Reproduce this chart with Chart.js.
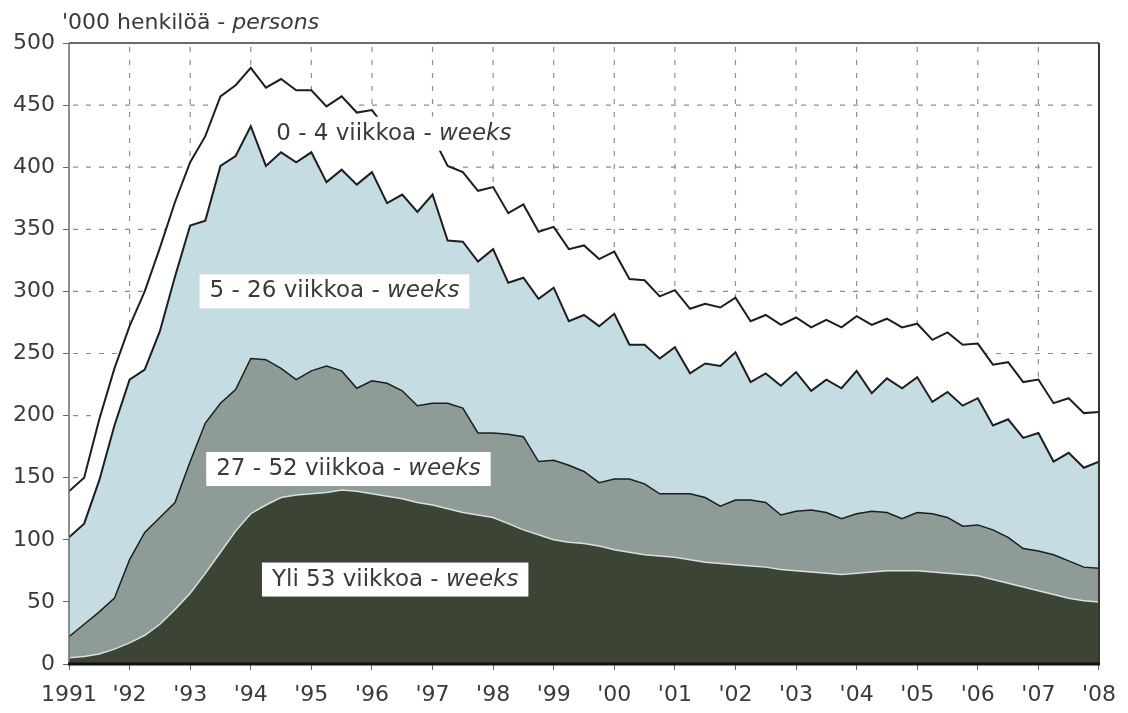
<!DOCTYPE html>
<html lang="fi">
<head>
<meta charset="utf-8">
<title>Työttömät työnhakijat työttömyyden keston mukaan</title>
<script src="https://cdn.jsdelivr.net/npm/chart.js@4.4.1/dist/chart.umd.min.js"></script>
<style>
  html, body { margin: 0; padding: 0; background: #fff; }
  #wrap { width: 1128px; height: 713px; }
</style>
</head>
<body>
<div id="wrap"><canvas id="kesto" width="1128" height="713"></canvas></div>
<script>
// ===== DATA (1000 henkilöä, neljännesvuosittain) =====
const neljannekset = [
    1991, 1991.25, 1991.5, 1991.75, 1992, 1992.25, 1992.5, 1992.75,
    1993, 1993.25, 1993.5, 1993.75, 1994, 1994.25, 1994.5, 1994.75,
    1995, 1995.25, 1995.5, 1995.75, 1996, 1996.25, 1996.5, 1996.75,
    1997, 1997.25, 1997.5, 1997.75, 1998, 1998.25, 1998.5, 1998.75,
    1999, 1999.25, 1999.5, 1999.75, 2000, 2000.25, 2000.5, 2000.75,
    2001, 2001.25, 2001.5, 2001.75, 2002, 2002.25, 2002.5, 2002.75,
    2003, 2003.25, 2003.5, 2003.75, 2004, 2004.25, 2004.5, 2004.75,
    2005, 2005.25, 2005.5, 2005.75, 2006, 2006.25, 2006.5, 2006.75,
    2007, 2007.25, 2007.5, 2007.75, 2008
];

const vuosiTekstit = ['1991', "'92", "'93", "'94", "'95", "'96", "'97", "'98", "'99",
    "'00", "'01", "'02", "'03", "'04", "'05", "'06", "'07", "'08"];

const arvoTikit = [50, 100, 150, 200, 250, 300, 350, 400, 450];

// kerrosten yläreunat (kumulatiivinen summa alhaalta ylös)
const yli53 = [
    5, 6, 8, 12, 17, 23, 32, 44, 57, 73, 90, 107, 121, 128, 134, 136,
    137, 138, 140, 139, 137, 135, 133, 130, 128, 125, 122, 120, 118, 113, 108, 104,
    100, 98, 97, 95, 92, 90, 88, 87, 86, 84, 82, 81, 80, 79, 78, 76,
    75, 74, 73, 72, 73, 74, 75, 75, 75, 74, 73, 72, 71, 68, 65, 62,
    59, 56, 53, 51, 50
];
const enint52 = [
    22, 32, 42, 53, 84, 106, 118, 130, 163, 194, 210, 221, 246, 245, 238, 229,
    236, 240, 236, 222, 228, 226, 220, 208, 210, 210, 206, 186, 186, 185, 183, 163,
    164, 160, 155, 146, 149, 149, 145, 137, 137, 137, 134, 127, 132, 132, 130, 120,
    123, 124, 122, 117, 121, 123, 122, 117, 122, 121, 118, 111, 112, 108, 102, 93,
    91, 88, 83, 78, 77
];
const enint26 = [
    102, 113, 148, 192, 229, 237, 268, 312, 353, 357, 401, 409, 433, 401, 412, 404,
    412, 388, 398, 386, 396, 371, 378, 364, 378, 341, 340, 324, 334, 307, 311, 294,
    303, 276, 281, 272, 282, 257, 257, 246, 255, 234, 242, 240, 251, 227, 234, 224,
    235, 220, 229, 222, 236, 218, 230, 222, 231, 211, 219, 208, 214, 192, 197, 182,
    186, 163, 170, 158, 163
];
const kaikki = [
    139, 150, 197, 238, 272, 300, 335, 372, 404, 425, 457, 466, 480, 464, 471, 462,
    462, 449, 457, 444, 446, 430, 434, 420, 425, 401, 396, 381, 384, 363, 370, 348,
    352, 334, 337, 326, 332, 310, 309, 296, 301, 286, 290, 287, 295, 276, 281, 273,
    279, 271, 277, 271, 280, 273, 278, 271, 274, 261, 267, 257, 258, 241, 243, 227,
    229, 210, 214, 202, 203
];

const alueNimet = ['0 - 4 viikkoa - ', '5 - 26 viikkoa - ', '27 - 52 viikkoa - ', 'Yli 53 viikkoa - '];

// ===== ASETUKSET =====
const fontti = '"DejaVu Sans", sans-serif';
const tekstiVari = '#3a3a3a';
const ruudukkoVari = '#8e8e8e';
// tekstien paikat arvoyksiköissä (vuosi, tuhatta henkilöä)
const nimiPaikat = [
    { vuosi: 1994.42, arvo: 427 },
    { vuosi: 1993.32, arvo: 300 },
    { vuosi: 1993.43, arvo: 157 },
    { vuosi: 1994.35, arvo: 68 }
];

// ===== RUUDUKKO, KEHYS JA NIMET =====
const kehysJaNimet = {
    id: 'kehysJaNimet',
    beforeDatasetsDraw(chart) {
        // katkoviivaruudukko asteikkojen kautta
        const { ctx, chartArea: a, scales: { x, y } } = chart;
        ctx.save();
        ctx.strokeStyle = ruudukkoVari;
        ctx.lineWidth = 1.2;
        ctx.setLineDash([5, 8]);
        ctx.beginPath();
        arvoTikit.forEach(v => {
            const py = y.getPixelForValue(v);
            ctx.moveTo(a.left + 4, py);
            ctx.lineTo(a.right, py);
        });
        for (let v = 1992; v < 2008; v++) {
            const px = x.getPixelForValue(v);
            ctx.moveTo(px, a.top + 4);
            ctx.lineTo(px, a.bottom);
        }
        ctx.stroke();
        ctx.restore();
    },
    afterDatasetsDraw(chart) {
        const { ctx, chartArea: a, scales: { x, y } } = chart;
        ctx.save();

        const viiva = (x1, y1, x2, y2, vari, lev) => {
            ctx.beginPath();
            ctx.strokeStyle = vari;
            ctx.lineWidth = lev;
            ctx.moveTo(x1, y1);
            ctx.lineTo(x2, y2);
            ctx.stroke();
        };
        viiva(a.left, a.top, a.right, a.top, '#6a6a6a', 2);
        viiva(a.left, a.top, a.left, a.bottom, '#6a6a6a', 1.5);
        viiva(a.right, a.top, a.right, a.bottom, '#333', 2);
        viiva(a.left - 1, a.bottom, a.right + 1, a.bottom, '#111', 3);

        // alueiden nimet valkoisilla laatikoilla
        ctx.textBaseline = 'middle';
        alueNimet.forEach((nimi, i) => {
            const px = x.getPixelForValue(nimiPaikat[i].vuosi);
            const py = y.getPixelForValue(nimiPaikat[i].arvo);
            ctx.font = '23px ' + fontti;
            const w1 = ctx.measureText(nimi).width;
            ctx.font = 'oblique 23px ' + fontti;
            const w2 = ctx.measureText('weeks').width;
            ctx.fillStyle = '#fff';
            ctx.fillRect(px - 10, py - 17, w1 + w2 + 20, 34);
            ctx.fillStyle = tekstiVari;
            ctx.font = '23px ' + fontti;
            ctx.fillText(nimi, px, py);
            ctx.font = 'oblique 23px ' + fontti;
            ctx.fillText('weeks', px + w1, py);
        });
        ctx.restore();
    },
    afterDraw(chart) {
        const ctx = chart.ctx;
        ctx.save();
        ctx.fillStyle = tekstiVari;
        ctx.textBaseline = 'middle';
        ctx.font = '22px ' + fontti;
        const alku = "'000 henkilöä - ";
        ctx.fillText(alku, 62, 23);
        const w = ctx.measureText(alku).width;
        ctx.font = 'oblique 22px ' + fontti;
        ctx.fillText('persons', 62 + w, 23);
        ctx.restore();
    }
};

const kerros = (data, tausta, reuna, leveys) => ({
    data,
    fill: '-1',
    backgroundColor: tausta,
    borderColor: reuna,
    borderWidth: leveys,
    pointRadius: 0,
    tension: 0
});

const datasets = [
    Object.assign(kerros(yli53, '#3c4435', '#d9e1dc', 1.5), { fill: 'origin', label: 'Yli 53 viikkoa' }),
    Object.assign(kerros(enint52, '#8e9b96', '#1e1e1e', 1.5), { label: '27 - 52 viikkoa' }),
    Object.assign(kerros(enint26, '#c5dce2', '#1e1e1e', 2), { label: '5 - 26 viikkoa' }),
    Object.assign(kerros(kaikki, '#ffffff', '#1e1e1e', 2), { label: '0 - 4 viikkoa' })
];

new Chart(document.getElementById('kesto'), {
    type: 'line',
    data: { labels: neljannekset, datasets },
    options: {
        responsive: false,
        animation: false,
        devicePixelRatio: 1,
        layout: { padding: { top: 43, right: 25, left: 0, bottom: 0 } },
        plugins: { legend: { display: false }, tooltip: { enabled: false } },
        scales: {
            x: {
                type: 'linear',
                min: 1991,
                max: 2008,
                afterFit: s => { s.height = 49; },
                ticks: {
                    stepSize: 1,
                    autoSkip: false,
                    maxRotation: 0,
                    padding: 12,
                    color: tekstiVari,
                    font: { family: 'DejaVu Sans', size: 22 },
                    callback: v => vuosiTekstit[v - 1991]
                },
                grid: { drawOnChartArea: false, tickColor: '#666', tickLength: 6 },
                border: { display: false }
            },
            y: {
                min: 0,
                max: 500,
                afterFit: s => { s.width = 69; },
                ticks: {
                    stepSize: 50,
                    padding: 8,
                    color: tekstiVari,
                    font: { family: 'DejaVu Sans', size: 22 }
                },
                grid: { drawOnChartArea: false, tickColor: '#666', tickLength: 6 },
                border: { display: false }
            }
        }
    },
    plugins: [kehysJaNimet]
});
</script>
</body>
</html>
